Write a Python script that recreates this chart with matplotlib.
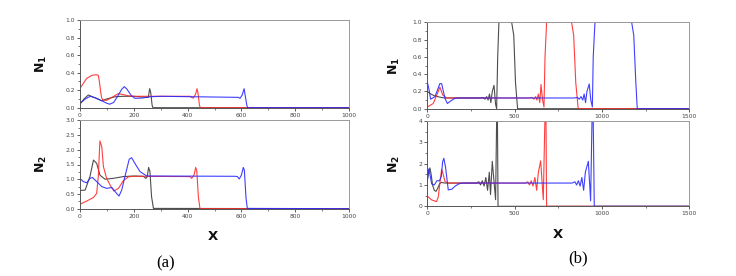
import matplotlib
matplotlib.use("Agg")
import matplotlib.pyplot as plt
from matplotlib.ticker import MultipleLocator

# ---------------- panel (a) data ----------------
a_n1_black_x = [0, 15, 31, 50, 65, 80, 100, 130, 160, 200, 248, 254, 259, 263, 268, 271, 1000]
a_n1_black_y = [0.04, 0.10, 0.145, 0.12, 0.10, 0.08, 0.10, 0.125, 0.13, 0.13, 0.118, 0.118, 0.217, 0.17, 0.03, 0.0, 0.0]
a_n1_red_x = [0, 25, 45, 60, 68, 72, 76, 80, 85, 100, 120, 142, 160, 183, 200, 410, 415, 421, 430, 435, 439, 444, 447, 1000]
a_n1_red_y = [0.22, 0.335, 0.37, 0.375, 0.37, 0.30, 0.20, 0.12, 0.085, 0.085, 0.12, 0.16, 0.15, 0.133, 0.13, 0.13, 0.118, 0.11, 0.156, 0.217, 0.16, 0.03, 0.0, 0.0]
a_n1_blue_x = [0, 20, 38, 60, 80, 100, 111, 125, 140, 155, 165, 175, 190, 204, 230, 260, 300, 589, 595, 603, 610, 613, 620, 623, 1000]
a_n1_blue_y = [0.05, 0.10, 0.13, 0.11, 0.08, 0.05, 0.04, 0.06, 0.13, 0.21, 0.24, 0.21, 0.14, 0.107, 0.11, 0.125, 0.13, 0.118, 0.107, 0.145, 0.217, 0.16, 0.03, 0.0, 0.0]

a_n2_black_x = [0, 19, 37, 50, 62, 74, 93, 124, 161, 198, 235, 245, 250, 255, 260, 266, 273, 1000]
a_n2_black_y = [0.62, 0.63, 1.09, 1.65, 1.54, 1.14, 1.0, 1.03, 1.09, 1.11, 1.1, 1.03, 1.09, 1.4, 1.26, 0.41, 0.01, 0.0]
a_n2_red_x = [0, 25, 50, 62, 68, 74, 81, 87, 99, 112, 126, 143, 161, 180, 200, 409, 415, 424, 430, 434, 440, 446, 1000]
a_n2_red_y = [0.15, 0.26, 0.38, 0.52, 1.09, 2.3, 2.1, 1.43, 1.03, 0.8, 0.6, 0.69, 0.95, 1.08, 1.1, 1.09, 1.03, 1.14, 1.4, 1.29, 0.41, 0.0, 0.0]
a_n2_blue_x = [0, 12, 25, 37, 46, 62, 81, 99, 118, 136, 145, 155, 167, 183, 192, 204, 223, 248, 576, 585, 592, 600, 607, 611, 617, 622, 1000]
a_n2_blue_y = [1.03, 0.92, 0.88, 1.03, 1.06, 0.92, 0.75, 0.69, 0.72, 0.52, 0.43, 0.63, 1.09, 1.68, 1.73, 1.54, 1.26, 1.11, 1.1, 1.09, 1.01, 1.14, 1.4, 1.31, 0.38, 0.01, 0.0]

# ---------------- panel (b) data ----------------
b_n1_black_x = [0, 20, 40, 60, 80, 100, 300, 320, 330, 340, 348, 356, 364, 372, 382, 391, 397, 403, 410, 483, 495, 505, 517, 1500]
b_n1_black_y = [0.2, 0.17, 0.15, 0.14, 0.13, 0.124, 0.124, 0.13, 0.11, 0.14, 0.10, 0.17, 0.07, 0.20, 0.27, 0.05, 0.0, 0.6, 1.0, 1.0, 0.85, 0.3, 0.0, 0.0]
b_n1_red_x = [0, 34, 63, 72, 88, 111, 580, 600, 610, 620, 628, 636, 644, 651, 660, 668, 674, 683, 826, 838, 850, 864, 1500]
b_n1_red_y = [0.02, 0.06, 0.20, 0.25, 0.16, 0.124, 0.124, 0.13, 0.11, 0.14, 0.10, 0.17, 0.07, 0.28, 0.10, 0.02, 0.6, 1.0, 1.0, 0.85, 0.3, 0.0, 0.0]
b_n1_blue_x = [0, 10, 19, 44, 72, 82, 101, 115, 134, 158, 180, 840, 860, 870, 880, 890, 898, 906, 914, 927, 936, 945, 950, 960, 1170, 1182, 1194, 1202, 1500]
b_n1_blue_y = [0.31, 0.22, 0.11, 0.14, 0.29, 0.29, 0.12, 0.06, 0.09, 0.12, 0.124, 0.124, 0.13, 0.11, 0.14, 0.10, 0.17, 0.07, 0.20, 0.286, 0.10, 0.02, 0.6, 1.0, 1.0, 0.85, 0.3, 0.0, 0.0]

b_n2_black_x = [0, 8, 15, 22, 30, 40, 50, 60, 70, 80, 100, 280, 295, 305, 315, 325, 335, 345, 355, 362, 372, 391, 400, 405, 1500]
b_n2_black_y = [1.2, 1.6, 1.8, 1.5, 1.0, 0.75, 0.7, 0.85, 1.05, 1.12, 1.09, 1.09, 1.15, 1.0, 1.2, 0.95, 1.35, 0.75, 1.6, 0.55, 2.11, 0.31, 6.0, 0.0, 0.0]
b_n2_red_x = [0, 25, 53, 63, 72, 82, 92, 101, 120, 560, 575, 585, 595, 605, 616, 626, 636, 649, 664, 678, 683, 1500]
b_n2_red_y = [0.48, 0.3, 0.22, 0.45, 1.08, 1.73, 1.47, 1.16, 1.09, 1.09, 1.15, 1.0, 1.2, 0.95, 1.35, 0.75, 1.6, 2.13, 0.31, 6.0, 0.0, 0.0]
b_n2_blue_x = [0, 8, 15, 25, 40, 55, 70, 80, 88, 95, 105, 120, 140, 160, 180, 200, 830, 845, 855, 865, 875, 885, 895, 905, 922, 935, 947, 956, 1500]
b_n2_blue_y = [1.2, 1.75, 1.5, 1.05, 1.0, 1.2, 1.2, 1.4, 2.1, 2.25, 1.8, 0.77, 0.8, 0.95, 1.05, 1.09, 1.09, 1.15, 1.0, 1.2, 0.95, 1.35, 0.75, 1.6, 2.11, 0.26, 6.0, 0.0, 0.0]

C_BLACK = "#3a3a3a"
C_RED = "#ff2a2a"
C_BLUE = "#2a2aff"
LW = 0.8

fig = plt.figure(figsize=(7.36, 2.76), dpi=100)

def style(ax, xmax, xmaj, xmin, ymax, ymaj, ymin, yfmt):
    ax.set_xlim(0, xmax)
    ax.set_ylim(0, ymax)
    ax.xaxis.set_major_locator(MultipleLocator(xmaj))
    ax.xaxis.set_minor_locator(MultipleLocator(xmin))
    ax.yaxis.set_major_locator(MultipleLocator(ymaj))
    ax.yaxis.set_minor_locator(MultipleLocator(ymin))
    ax.yaxis.set_major_formatter(yfmt)
    ax.tick_params(which="major", direction="out", length=2.5, width=0.6,
                   labelsize=4.3, pad=1.2, colors="#444444")
    ax.tick_params(which="minor", direction="out", length=1.3, width=0.5, colors="#444444")
    for s in ("left", "bottom"):
        ax.spines[s].set_color("#555555")
        ax.spines[s].set_linewidth(0.7)
    for s in ("top", "right"):
        ax.spines[s].set_color("#999999")
        ax.spines[s].set_linewidth(0.7)

def draw(ax, series):
    for xs, ys, c in series:
        ax.plot(xs, ys, color=c, lw=LW, alpha=0.9, solid_joinstyle="round")

# (a) top
ax1 = fig.add_axes([80/736, 1-107.7/276, 269/736, 87.7/276])
draw(ax1, [(a_n1_black_x, a_n1_black_y, C_BLACK), (a_n1_red_x, a_n1_red_y, C_RED), (a_n1_blue_x, a_n1_blue_y, C_BLUE)])
style(ax1, 1000, 200, 100, 1.0, 0.2, 0.1, "{x:.1f}")
# (a) bottom
ax2 = fig.add_axes([80/736, 1-208.7/276, 269/736, 88.4/276])
draw(ax2, [(a_n2_black_x, a_n2_black_y, C_BLACK), (a_n2_red_x, a_n2_red_y, C_RED), (a_n2_blue_x, a_n2_blue_y, C_BLUE)])
style(ax2, 1000, 200, 100, 3.0, 0.5, 0.25, "{x:.1f}")
# (b) top
ax3 = fig.add_axes([427.3/736, 1-108.7/276, 262/736, 86.4/276])
draw(ax3, [(b_n1_black_x, b_n1_black_y, C_BLACK), (b_n1_red_x, b_n1_red_y, C_RED), (b_n1_blue_x, b_n1_blue_y, C_BLUE)])
style(ax3, 1500, 500, 250, 1.0, 0.2, 0.1, "{x:.1f}")
# (b) bottom
ax4 = fig.add_axes([427.3/736, 1-206.3/276, 262/736, 85.3/276])
draw(ax4, [(b_n2_black_x, b_n2_black_y, C_BLACK), (b_n2_red_x, b_n2_red_y, C_RED), (b_n2_blue_x, b_n2_blue_y, C_BLUE)])
style(ax4, 1500, 500, 250, 4.0, 1.0, 0.5, "{x:.0f}")

lab_kw = dict(fontsize=9, fontweight="bold", color="#111111")
ax1.set_ylabel(r"$\mathbf{N_1}$", **lab_kw)
ax1.yaxis.set_label_coords(-0.117, 0.5)
ax2.set_ylabel(r"$\mathbf{N_2}$", **lab_kw)
ax2.yaxis.set_label_coords(-0.117, 0.5)
ax3.set_ylabel(r"$\mathbf{N_1}$", **lab_kw)
ax3.yaxis.set_label_coords(-0.098, 0.5)
ax4.set_ylabel(r"$\mathbf{N_2}$", **lab_kw)
ax4.yaxis.set_label_coords(-0.098, 0.5)

ax2.set_xlabel("X", fontsize=9.5, fontweight="bold", color="#111111")
ax2.xaxis.set_label_coords(0.494, -0.236)
ax4.set_xlabel("X", fontsize=9.5, fontweight="bold", color="#111111")
ax4.xaxis.set_label_coords(0.5, -0.25)

fig.text(166/736, 1-263/276, "(a)", fontsize=12, family="Liberation Serif", ha="center", va="center")
fig.text(578.5/736, 1-258/276, "(b)", fontsize=12, family="Liberation Serif", ha="center", va="center")

fig.savefig("out.png", dpi=100)
